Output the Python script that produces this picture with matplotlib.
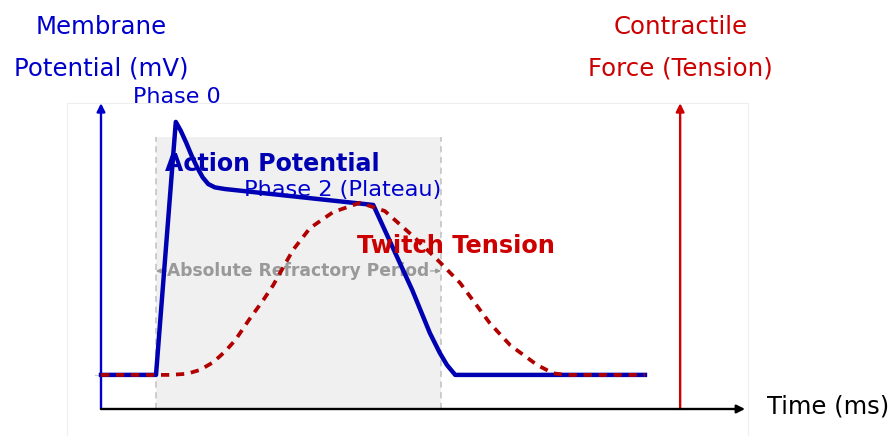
import matplotlib.pyplot as plt
from matplotlib.patches import Rectangle

plt.rcParams['font.family'] = ['DejaVu Sans']

# action potential trace (time units, potential units)
ap_t = [0.0, 1.0, 1.36, 1.45, 1.55, 1.65, 1.75, 1.85, 1.95, 2.07, 2.25, 4.95, 5.66, 5.98, 6.16, 6.29, 6.44, 9.89]
ap_v = [0.62, 0.62, 5.22, 5.06, 4.84, 4.60, 4.39, 4.21, 4.09, 4.03, 4.00, 3.71, 2.16, 1.38, 1.02, 0.80, 0.62, 0.62]

# twitch tension trace
tw_t = [0.0, 1.25, 1.56, 1.80, 2.04, 2.25, 2.44, 2.69, 2.95, 3.13, 3.49, 3.80, 4.22, 4.71,
        5.16, 5.71, 6.16, 6.53, 7.07, 7.44, 7.93, 8.22, 8.44, 9.89]
tw_f = [0.62, 0.62, 0.64, 0.71, 0.85, 1.04, 1.25, 1.62, 1.98, 2.25, 2.89, 3.29, 3.58, 3.75,
        3.60, 3.11, 2.67, 2.29, 1.56, 1.16, 0.80, 0.65, 0.62, 0.62]

arp_start, arp_end, arp_top = 1.0, 6.18, 4.95
axis_top = 5.56
time_end = 11.71
force_axis = 10.53

blue = '#0000CC'
ap_blue = '#0000B3'
red = '#CC0000'
tw_red = '#B00000'
gray = '#999999'

fig = plt.figure(figsize=(8.96, 4.36), dpi=100)
ax = fig.add_axes([0, 0, 1, 1])
ax.set_xlim(-101 / 55, 795 / 55)
ax.set_ylim(-27 / 55, 409 / 55)
ax.axis('off')

# faint frame
ax.add_patch(Rectangle((-0.62, -1), 12.38, 1 + axis_top, fill=False, ec='#EEEEEE', lw=0.8, zorder=0))

# refractory shading
ax.add_patch(Rectangle((arp_start, 0), arp_end - arp_start, arp_top, fc='#F0F0F0', ec='none', zorder=1))
for xv in (arp_start, arp_end):
    ax.plot([xv, xv], [0, arp_top], color='#C0C0C0', lw=1.1, ls=(0, (4, 3)), zorder=1.5)

ax.annotate('', xy=(arp_start, 2.51), xytext=(arp_end, 2.51),
            arrowprops=dict(arrowstyle='<|-|>', color=gray, lw=0.8, mutation_scale=7,
                            shrinkA=0, shrinkB=0), zorder=2)
ax.text((arp_start + arp_end) / 2 + 0.0, 2.51, 'Absolute Refractory Period', color=gray,
        fontsize=12.3, fontweight='bold', ha='center', va='center', zorder=2.5,
        bbox=dict(fc='#F0F0F0', ec='none', pad=0.3))

# axes
ax.annotate('', xy=(0, axis_top), xytext=(0, 0),
            arrowprops=dict(arrowstyle='-|>', color=blue, lw=1.7, mutation_scale=12, shrinkA=0, shrinkB=0), zorder=3)
ax.annotate('', xy=(force_axis, axis_top), xytext=(force_axis, 0),
            arrowprops=dict(arrowstyle='-|>', color=red, lw=1.7, mutation_scale=12, shrinkA=0, shrinkB=0), zorder=3)
ax.annotate('', xy=(time_end, 0), xytext=(0, 0),
            arrowprops=dict(arrowstyle='-|>', color='black', lw=1.7, mutation_scale=12, shrinkA=0, shrinkB=0), zorder=3)
ax.plot([-0.11, 0.16], [0.62, 0.62], color='#CCCCCC', lw=0.8, zorder=2)

# traces
ax.plot(ap_t, ap_v, color=ap_blue, lw=3.2, solid_joinstyle='round', zorder=4)
ax.plot(tw_t, tw_f, color=tw_red, lw=2.7, ls=(0, (2.2, 1.8)), zorder=5)

# labels
ax.text(0, 6.57, 'Membrane\nPotential (mV)', color=blue, fontsize=17.6, ha='center', va='center', linespacing=1.95)
ax.text(force_axis, 6.57, 'Contractile\nForce (Tension)', color=red, fontsize=17.6, ha='center', va='center', linespacing=1.95)
ax.text(12.11, 0.04, 'Time (ms)', color='black', fontsize=17.5, ha='left', va='center')
ax.text(1.38, 5.67, 'Phase 0', color=blue, fontsize=16, ha='center', va='center', zorder=6)
ax.text(4.39, 3.98, 'Phase 2 (Plateau)', color=blue, fontsize=16.2, ha='center', va='center', zorder=6)
ax.text(3.11, 4.45, 'Action Potential', color=ap_blue, fontsize=17.1, fontweight='bold', ha='center', va='center', zorder=6)
ax.text(6.45, 2.96, 'Twitch Tension', color=red, fontsize=17.3, fontweight='bold', ha='center', va='center', zorder=6)

fig.savefig('out.png', dpi=100)
